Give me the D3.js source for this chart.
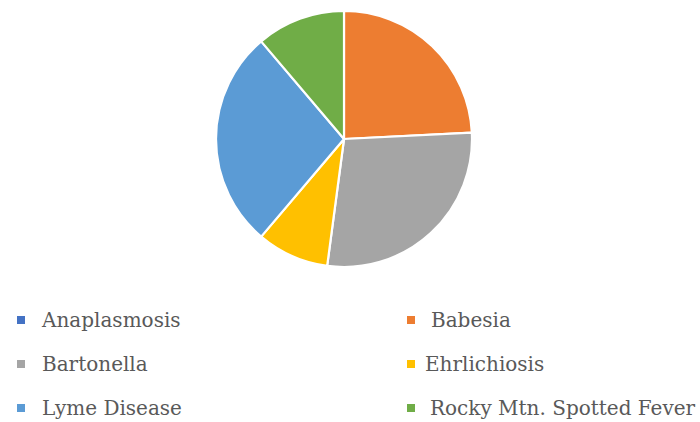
<!DOCTYPE html>
<html>
<head>
<meta charset="utf-8">
<script src="https://cdn.jsdelivr.net/npm/d3@7"></script>
<style>
  body { margin: 0; background: #fff; }
  svg text { font-family: "DejaVu Serif", "Liberation Serif", serif; fill: #595959; }
</style>
</head>
<body>
<div id="chart"></div>
<script>
// Data
const diseases = ["Anaplasmosis", "Babesia", "Bartonella", "Ehrlichiosis", "Lyme Disease", "Rocky Mtn. Spotted Fever"];
const shares = [0, 24.2, 27.9, 9.1, 27.6, 11.2];
const colors = ["#4472C4", "#ED7D31", "#A5A5A5", "#FFC000", "#5B9BD5", "#70AD47"];

const width = 700, height = 422;
const cx = 344, cy = 139, radius = 128;

const svg = d3.select("#chart").append("svg").attr("width", width).attr("height", height);

const color = d3.scaleOrdinal().domain(diseases).range(colors);

const pie = d3.pie().sort(null).value(d => d.value);
const arc = d3.arc().innerRadius(0).outerRadius(radius);
const data = diseases.map((name, i) => ({ name, value: shares[i] }));

// --- PIE ---
svg.append("g").attr("transform", `translate(${cx},${cy})`)
    .selectAll("path")
    .data(pie(data))
    .enter().append("path")
    .attr("d", arc)
    .attr("fill", d => color(d.data.name))
    .attr("stroke", "#fff")
    .attr("stroke-width", 2.2)
    .attr("stroke-linejoin", "round");

// --- LEGEND (2 columns x 3 rows) ---
const colX = [17, 407];
const rowY = [320, 364, 408];
const textX = [25, 24, 25, 18, 25, 23]; // offsets as laid out in the original
const legend = svg.append("g");
const items = legend.selectAll("g").data(diseases).enter().append("g")
    .attr("transform", (d, i) => `translate(${colX[i % 2]},${rowY[Math.floor(i / 2)]})`);

items.append("rect")
    .attr("x", 0).attr("y", -4).attr("width", 8).attr("height", 8)
    .attr("fill", d => color(d));

items.append("text")
    .attr("x", (d, i) => textX[i])
    .attr("y", 7)
    .style("font-size", "20px")
    .text(d => d);
</script>
</body>
</html>
